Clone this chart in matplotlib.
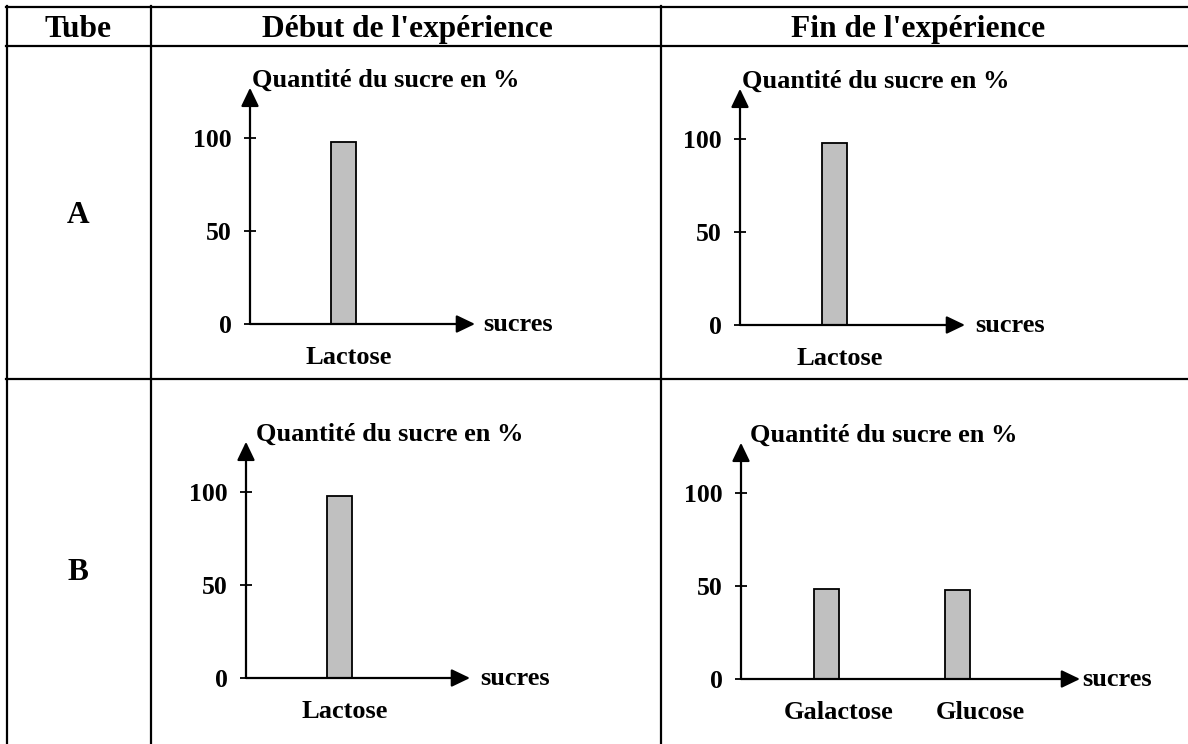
import matplotlib
matplotlib.use("Agg")
import matplotlib.pyplot as plt
from matplotlib.lines import Line2D

# ---------------- data ----------------
col_headers = ["Tube", "Début de l'expérience", "Fin de l'expérience"]
row_labels = ["A", "B"]
y_axis_label = "Quantité du sucre en %"
x_axis_label = "sucres"
y_ticks = [0, 50, 100]

sugars_A_debut = ["Lactose"]
values_A_debut = [98]
sugars_A_fin = ["Lactose"]
values_A_fin = [98]
sugars_B_debut = ["Lactose"]
values_B_debut = [98]
sugars_B_fin = ["Galactose", "Glucose"]
values_B_fin = [48.5, 48]

# ---------------- layout (pixels) ----------------
W, H, DPI = 1188, 744, 100
PX_PER_UNIT = 1.86
Y_MAX = 127
FONT = "Liberation Serif"
BAR_COLOR = "#c0c0c0"
BAR_W = 25

# origin x, origin y (zero line), x-axis length, bar centers, label centers, title x offset
panels = [
    dict(ox=250, oy=324, L=225, bars=[93.5], labs=[99], tdx=2, sdx=8,
         names=sugars_A_debut, vals=values_A_debut),
    dict(ox=740, oy=325, L=225, bars=[94], labs=[100], tdx=2, sdx=10,
         names=sugars_A_fin, vals=values_A_fin),
    dict(ox=246, oy=678, L=224, bars=[93], labs=[99], tdx=10, sdx=10,
         names=sugars_B_debut, vals=values_B_debut),
    dict(ox=741, oy=679, L=339, bars=[85, 216], labs=[98, 239], tdx=9, sdx=2,
         names=sugars_B_fin, vals=values_B_fin),
]

fig = plt.figure(figsize=(W / DPI, H / DPI), dpi=DPI)
fig.patch.set_facecolor("white")

# ---------- table grid ----------
grid = fig.add_axes([0, 0, 1, 1])
grid.set_xlim(0, W)
grid.set_ylim(H, 0)
grid.axis("off")
tlw = 1.6
for y in [7, 45.5, 379]:
    grid.add_line(Line2D([6, W], [y, y], color="black", lw=tlw))
for x in [7, 151, 661]:
    grid.add_line(Line2D([x, x], [6, H], color="black", lw=tlw))

header_x = [78.5, 407.5, 918]
for hx, txt in zip(header_x, col_headers):
    grid.text(hx, 37, txt, ha="center", va="baseline", fontsize=22.6,
              fontweight="bold", family=FONT)
row_y = [223, 580]
for ry, txt in zip(row_y, row_labels):
    grid.text(78, ry, txt, ha="center", va="baseline", fontsize=22.6,
              fontweight="bold", family=FONT)

# ---------- panels ----------
for p in panels:
    hpx = Y_MAX * PX_PER_UNIT
    ax = fig.add_axes([p["ox"] / W, (H - p["oy"]) / H, p["L"] / W, hpx / H])
    ax.set_xlim(0, p["L"])
    ax.set_ylim(0, Y_MAX)
    ax.patch.set_alpha(0)
    for s in ax.spines.values():
        s.set_visible(False)

    ax.bar(p["bars"], p["vals"], width=BAR_W, color=BAR_COLOR,
           edgecolor="black", linewidth=1.3, zorder=2)

    # axes arrows
    ap = dict(arrowstyle="-|>,head_length=0.75,head_width=0.36",
              lw=1.6, color="black", mutation_scale=15,
              shrinkA=0, shrinkB=0)
    ax.annotate("", xy=(1, 0), xytext=(0, 0), xycoords="axes fraction",
                textcoords="axes fraction", arrowprops=ap, zorder=3)
    ax.annotate("", xy=(0, 1), xytext=(0, 0), xycoords="axes fraction",
                textcoords="axes fraction", arrowprops=ap, zorder=3)

    # y ticks
    ax.set_yticks(y_ticks)
    ax.set_yticklabels([str(t) for t in y_ticks], fontsize=18.5,
                       fontweight="bold", family=FONT)
    ax.tick_params(axis="y", direction="inout", length=8, width=1.3,
                   pad=9, colors="black")
    # x category labels
    ax.set_xticks(p["labs"])
    ax.set_xticklabels(p["names"], fontsize=19, fontweight="bold",
                       family=FONT)
    ax.tick_params(axis="x", length=0, pad=15.5)

    # axis titles
    ax.annotate(x_axis_label, xy=(1, 0), xycoords="axes fraction",
                xytext=(p["sdx"], -7), textcoords="offset pixels",
                ha="left", va="baseline",
                fontsize=19, fontweight="bold", family=FONT)
    ax.annotate(y_axis_label, xy=(0, 1), xycoords="axes fraction",
                xytext=(p["tdx"], 1), textcoords="offset pixels",
                ha="left", va="baseline",
                fontsize=19, fontweight="bold", family=FONT)

fig.savefig("out.png", dpi=DPI, facecolor="white")
